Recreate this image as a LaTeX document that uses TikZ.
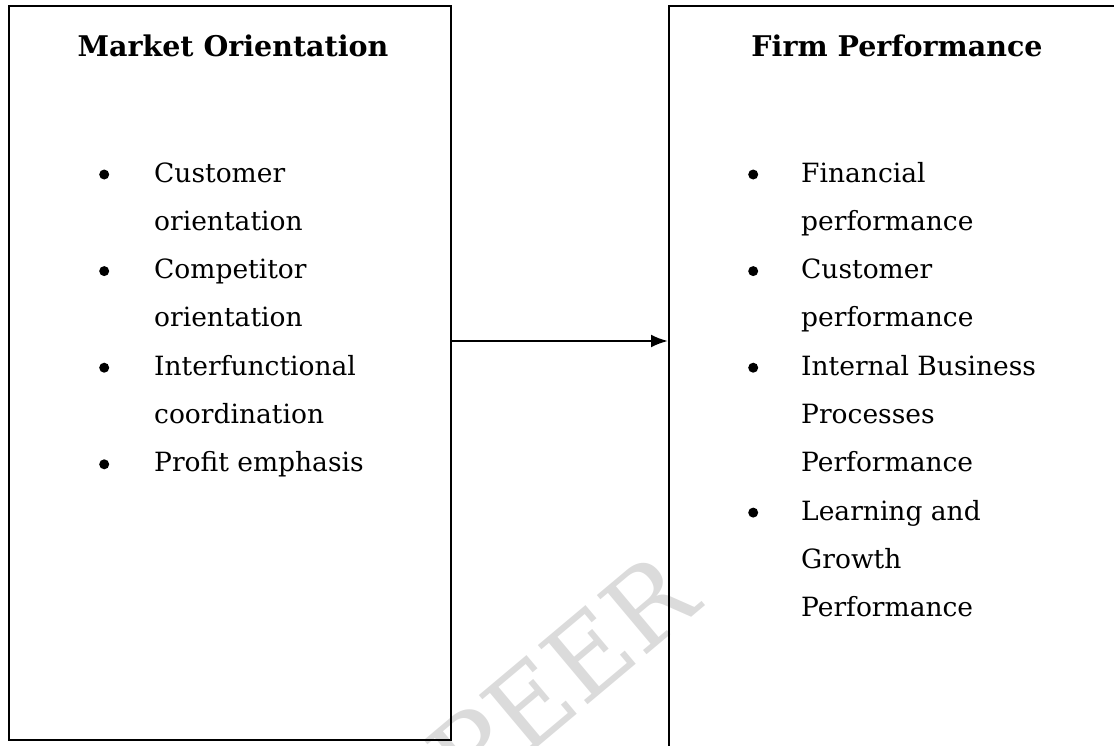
\documentclass[tikz,border=0pt]{standalone}
\usepackage{fontspec}
\setmainfont{DejaVu Serif}
\usetikzlibrary{arrows.meta}

\begin{document}
\begin{tikzpicture}
[ x=1pt, y=-1pt, line width=2.4pt
, point/.style={coordinate}
, frame/.style={rectangle, draw, line width=2.4pt, anchor=north west, inner sep=0pt}
, heading/.style={anchor=base, inner sep=0pt, font=\fontsize{28.5}{32}\selectfont\bfseries}
, entry/.style={anchor=base west, inner sep=0pt, text height=19pt, text depth=6.5pt, font=\fontsize{26.5}{30}\selectfont}
, dot/.style={circle, fill, inner sep=0pt, minimum size=10pt, anchor=center, yshift=7.5pt}
, watermark/.style={rotate=40, text=black!14, font=\fontsize{106}{116}\selectfont}
, link/.style={-{Latex[length=17pt,width=13pt]}, line width=2.4pt}
]
\useasboundingbox (0,0) rectangle (1114,745);
\clip (0,0) rectangle (1114,745);
\node (mark) [watermark] at (562,676) {PEER};
% Boxes:
\node (market) [frame, minimum width=442pt, minimum height=734pt] at (8,5) {};
\node (firm) [frame, minimum width=500pt, minimum height=800pt] at (668,5) {};
\node (markettitle) [heading] at (233,56) {Market Orientation};
\node (firmtitle) [heading] at (897,56) {Firm Performance};
% Left list:
\matrix (marketlist) [row sep=22.8pt, column sep=45pt, matrix anchor=mc1.base west] at (153,182) {
\node [dot] {}; & \node (mc1) [entry] {Customer}; \\
& \node [entry] {orientation}; \\
\node [dot] {}; & \node [entry] {Competitor}; \\
& \node [entry] {orientation}; \\
\node [dot] {}; & \node [entry] {Interfunctional}; \\
& \node [entry] {coordination}; \\
\node [dot] {}; & \node [entry] {Profit emphasis}; \\
};
% Right list:
\matrix (firmlist) [row sep=22.8pt, column sep=43pt, matrix anchor=fc1.base west] at (800,182) {
\node [dot] {}; & \node (fc1) [entry] {Financial}; \\
& \node [entry] {performance}; \\
\node [dot] {}; & \node [entry] {Customer}; \\
& \node [entry] {performance}; \\
\node [dot] {}; & \node [entry] {Internal Business}; \\
& \node [entry] {Processes}; \\
& \node [entry] {Performance}; \\
\node [dot] {}; & \node [entry] {Learning and}; \\
& \node [entry] {Growth}; \\
& \node [entry] {Performance}; \\
};
\coordinate (arrowrow) at (0,341);
\draw [link] (market.east |- arrowrow) -- (firm.west |- arrowrow);
\end{tikzpicture}
\end{document}
